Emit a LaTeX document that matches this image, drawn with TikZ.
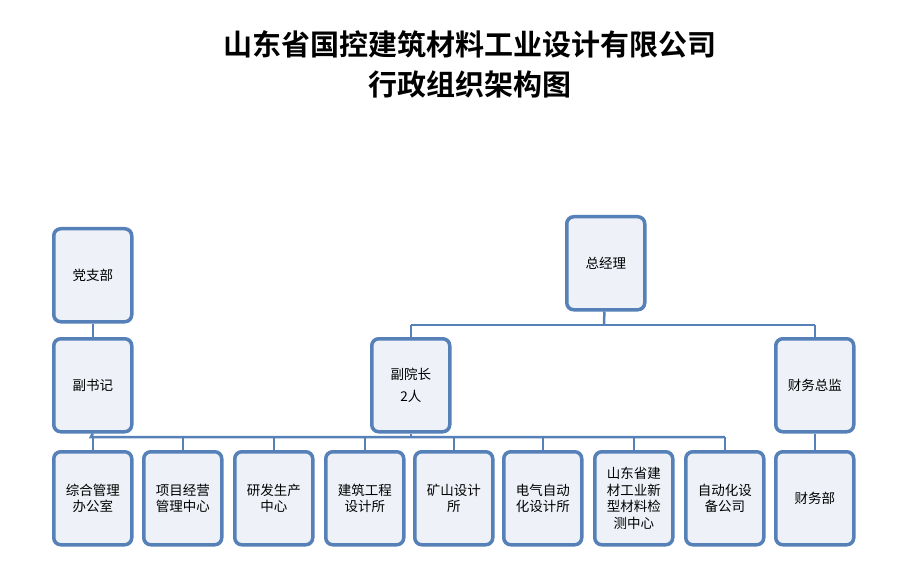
\documentclass[tikz,border=0pt]{standalone}
\usepackage{fontspec}
\setmainfont{Noto Sans CJK SC}
\newfontfamily\titlefont{Noto Sans CJK SC}[BoldFont={* Bold}]
\usetikzlibrary{positioning}
\definecolor{boxline}{HTML}{5580B8}
\definecolor{boxfill}{HTML}{EEF2F8}
\begin{document}
\begin{tikzpicture}[x=1pt, y=-1pt,
      unit/.style = {draw=boxline, fill=boxfill, line width=3.5pt, rounded corners=7pt,
                     minimum width=78pt, minimum height=93pt, align=center,
                     font=\fontsize{13.5}{16.5}\selectfont, anchor=north west, inner sep=1pt},
      link/.style = {draw=boxline, line width=2.5pt}
                    ]
\useasboundingbox (0,0) rectangle (909,569);
\node (title) at (470,64) [align=center, font=\titlefont\bfseries\fontsize{29}{40}\selectfont]
      {山东省国控建筑材料工业设计有限公司\\行政组织架构图};

    \begin{scope}[nodes=unit]
\node (dang)   at (52,227)  {党支部};
\node (fushu)  at (52,337)  {副书记};
\node (zong)   at (565,215) {总经理};
\node (fuyuan) at (370,337) {副院长\\[6pt]2人};
\node (caizong) at (774,337) {财务总监};
\node (zonghe) at (52,450)  {综合管理\\办公室};
\node (xiangmu) at (142,450) {项目经营\\管理中心};
\node (yanfa)  at (233,450) {研发生产\\中心};
\node (jianzhu) at (324,450) {建筑工程\\设计所};
\node (kuang)  at (413,450) {矿山设计\\所};
\node (dianqi) at (502,450) {电气自动\\化设计所};
\node (jiancai) at (593,450) {山东省建\\材工业新\\型材料检\\测中心};
\node (zidong) at (684,450) {自动化设\\备公司};
\node (caiwu)  at (774,450) {财务部};
    \end{scope}

\coordinate (top) at (604,325);
\coordinate (bus) at (91,437);
\draw[link] (dang) -- (fushu);
\draw[link] (zong) -- (top);
\draw[link] (fuyuan.north |- top) -- (caizong.north |- top);
\draw[link] (fuyuan.north |- top) -- (fuyuan.north);
\draw[link] (caizong.north |- top) -- (caizong.north);
\draw[link] (fushu.south) -- (bus) -- (bus -| zidong.north);
\draw[link] (fuyuan.south) -- (bus -| fuyuan.south);
\draw[link] (caizong) -- (caiwu);
\foreach \n in {zonghe,xiangmu,yanfa,jianzhu,kuang,dianqi,jiancai,zidong}
  \draw[link] (bus -| \n.north) -- (\n.north);
\end{tikzpicture}
\end{document}
